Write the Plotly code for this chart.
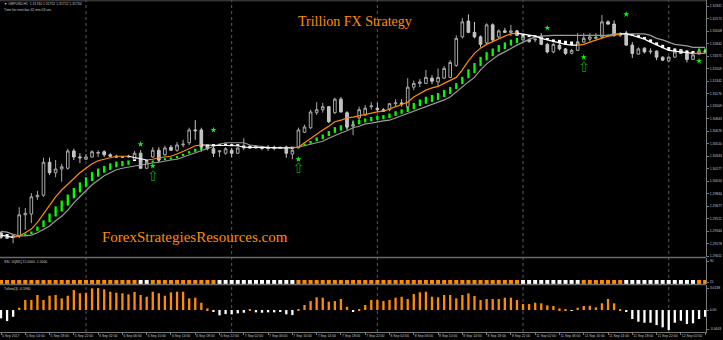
import pandas as pd
import plotly.graph_objects as go

W, H = 723, 340

# ---------------- data ----------------
open_ = [1.2932, 1.2926, 1.2926, 1.2928, 1.2956, 1.2957, 1.2980, 1.2982, 1.3026, 1.3012,
         1.3017, 1.3018, 1.3041, 1.3033, 1.3030, 1.3033, 1.3038, 1.3040, 1.3036, 1.3034,
         1.3033, 1.3033, 1.3030, 1.3038, 1.3018, 1.3033, 1.3042, 1.3036, 1.3046, 1.3042,
         1.3049, 1.3052, 1.3069, 1.3069, 1.3048, 1.3044, 1.3040, 1.3038, 1.3042, 1.3038,
         1.3045, 1.3046, 1.3045, 1.3046, 1.3045, 1.3046, 1.3045, 1.3046, 1.3037, 1.3046,
         1.3066, 1.3072, 1.3092, 1.3096, 1.3100, 1.3092, 1.3110, 1.3092, 1.3074, 1.3085,
         1.3089, 1.3100, 1.3098, 1.3096, 1.3096, 1.3104, 1.3105, 1.3100, 1.3126, 1.3131,
         1.3131, 1.3138, 1.3133, 1.3138, 1.3139, 1.3155, 1.3193, 1.3214, 1.3199, 1.3193,
         1.3185, 1.3209, 1.3193, 1.3201, 1.3199, 1.3201, 1.3189, 1.3189, 1.3189, 1.3194,
         1.3183, 1.3173, 1.3182, 1.3177, 1.3171, 1.3175, 1.3186, 1.3190, 1.3191, 1.3193,
         1.3213, 1.3210, 1.3195, 1.3198, 1.3182, 1.3170, 1.3178, 1.3173, 1.3174, 1.3166,
         1.3161, 1.3166, 1.3175, 1.3171, 1.3163, 1.3170, 1.3174]
high = [1.2934, 1.2928, 1.2930, 1.2966, 1.2965, 1.2985, 1.2988, 1.3032, 1.3032, 1.3029,
        1.3024, 1.3044, 1.3044, 1.3038, 1.3037, 1.3042, 1.3042, 1.3042, 1.3038, 1.3036,
        1.3034, 1.3036, 1.3041, 1.3042, 1.3029, 1.3046, 1.3046, 1.3048, 1.3049, 1.3053,
        1.3056, 1.3072, 1.3082, 1.3072, 1.3049, 1.3049, 1.3042, 1.3046, 1.3045, 1.3046,
        1.3058, 1.3049, 1.3048, 1.3048, 1.3049, 1.3048, 1.3046, 1.3048, 1.3045, 1.3072,
        1.3076, 1.3096, 1.3106, 1.3105, 1.3101, 1.3112, 1.3113, 1.3094, 1.3082, 1.3100,
        1.3102, 1.3106, 1.3105, 1.3098, 1.3105, 1.3110, 1.3110, 1.3138, 1.3135, 1.3137,
        1.3149, 1.3142, 1.3151, 1.3154, 1.3162, 1.3195, 1.3218, 1.3223, 1.3213, 1.3195,
        1.3211, 1.3211, 1.3203, 1.3205, 1.3209, 1.3202, 1.3195, 1.3191, 1.3191, 1.3198,
        1.3185, 1.3185, 1.3185, 1.3178, 1.3177, 1.3198, 1.3198, 1.3198, 1.3198, 1.3222,
        1.3215, 1.3215, 1.3199, 1.3201, 1.3186, 1.3179, 1.3179, 1.3178, 1.3175, 1.3167,
        1.3167, 1.3175, 1.3177, 1.3173, 1.3170, 1.3175, 1.3175]
low = [1.2924, 1.2924, 1.2918, 1.2925, 1.2936, 1.2945, 1.2976, 1.2980, 1.3009, 1.3006,
       1.3000, 1.3016, 1.3029, 1.3025, 1.3029, 1.3032, 1.3033, 1.3033, 1.3033, 1.3032,
       1.3032, 1.3032, 1.3029, 1.3017, 1.3017, 1.3032, 1.3026, 1.3034, 1.3041, 1.3040,
       1.3046, 1.3049, 1.3056, 1.3040, 1.3042, 1.3033, 1.3033, 1.3036, 1.3033, 1.3037,
       1.3042, 1.3044, 1.3044, 1.3042, 1.3041, 1.3042, 1.3044, 1.3032, 1.3030, 1.3044,
       1.3065, 1.3070, 1.3089, 1.3092, 1.3078, 1.3090, 1.3092, 1.3069, 1.3062, 1.3082,
       1.3088, 1.3096, 1.3093, 1.3093, 1.3094, 1.3100, 1.3100, 1.3097, 1.3122, 1.3126,
       1.3130, 1.3130, 1.3126, 1.3137, 1.3138, 1.3153, 1.3191, 1.3198, 1.3191, 1.3179,
       1.3182, 1.3186, 1.3191, 1.3198, 1.3194, 1.3194, 1.3187, 1.3185, 1.3186, 1.3182,
       1.3171, 1.3171, 1.3175, 1.3169, 1.3170, 1.3174, 1.3185, 1.3187, 1.3190, 1.3191,
       1.3209, 1.3193, 1.3193, 1.3181, 1.3165, 1.3169, 1.3171, 1.3170, 1.3162, 1.3161,
       1.3159, 1.3165, 1.3170, 1.3159, 1.3162, 1.3170, 1.3171]
close = [1.2926, 1.2925, 1.2928, 1.2956, 1.2958, 1.2980, 1.2982, 1.3026, 1.3012, 1.3017,
         1.3020, 1.3041, 1.3033, 1.3032, 1.3033, 1.3040, 1.3039, 1.3036, 1.3034, 1.3033,
         1.3033, 1.3034, 1.3038, 1.3018, 1.3026, 1.3042, 1.3029, 1.3045, 1.3042, 1.3049,
         1.3050, 1.3069, 1.3068, 1.3046, 1.3044, 1.3038, 1.3041, 1.3044, 1.3038, 1.3045,
         1.3046, 1.3045, 1.3046, 1.3045, 1.3046, 1.3045, 1.3046, 1.3038, 1.3042, 1.3069,
         1.3073, 1.3093, 1.3096, 1.3100, 1.3080, 1.3110, 1.3093, 1.3073, 1.3076, 1.3096,
         1.3098, 1.3101, 1.3096, 1.3094, 1.3104, 1.3105, 1.3104, 1.3126, 1.3131, 1.3133,
         1.3139, 1.3134, 1.3139, 1.3151, 1.3159, 1.3191, 1.3213, 1.3199, 1.3193, 1.3183,
         1.3209, 1.3189, 1.3201, 1.3199, 1.3201, 1.3195, 1.3193, 1.3187, 1.3190, 1.3183,
         1.3173, 1.3183, 1.3177, 1.3171, 1.3175, 1.3185, 1.3191, 1.3193, 1.3192, 1.3213,
         1.3210, 1.3195, 1.3197, 1.3182, 1.3171, 1.3177, 1.3173, 1.3174, 1.3166, 1.3162,
         1.3166, 1.3173, 1.3171, 1.3163, 1.3169, 1.3174, 1.3173]

fast_line = [1.2929, 1.2928, 1.2926, 1.2928, 1.2932, 1.2937, 1.2946, 1.2957, 1.2969, 1.2980,
             1.2989, 1.2997, 1.3005, 1.3012, 1.3018, 1.3024, 1.3028, 1.3030, 1.3033, 1.3034,
             1.3034, 1.3034, 1.3032, 1.3030, 1.3029, 1.3030, 1.3032, 1.3033, 1.3034, 1.3037,
             1.3040, 1.3044, 1.3048, 1.3049, 1.3049, 1.3049, 1.3049, 1.3049, 1.3048, 1.3048,
             1.3046, 1.3046, 1.3046, 1.3045, 1.3045, 1.3045, 1.3045, 1.3045, 1.3045, 1.3046,
             1.3052, 1.3058, 1.3064, 1.3069, 1.3074, 1.3080, 1.3082, 1.3085, 1.3086, 1.3088,
             1.3089, 1.3092, 1.3093, 1.3094, 1.3097, 1.3100, 1.3102, 1.3106, 1.3113, 1.3118,
             1.3122, 1.3125, 1.3127, 1.3131, 1.3135, 1.3139, 1.3149, 1.3161, 1.3171, 1.3178,
             1.3183, 1.3187, 1.3191, 1.3194, 1.3197, 1.3198, 1.3197, 1.3195, 1.3194, 1.3191,
             1.3189, 1.3186, 1.3185, 1.3183, 1.3182, 1.3182, 1.3183, 1.3186, 1.3189, 1.3191,
             1.3194, 1.3195, 1.3197, 1.3197, 1.3195, 1.3193, 1.3190, 1.3186, 1.3182, 1.3178,
             1.3175, 1.3174, 1.3173, 1.3171, 1.3171, 1.3171, 1.3171]
slow_line = [1.2934, 1.2933, 1.2930, 1.2928, 1.2928, 1.2929, 1.2932, 1.2936, 1.2941, 1.2948,
             1.2954, 1.2962, 1.2972, 1.2980, 1.2988, 1.2996, 1.3002, 1.3008, 1.3012, 1.3016,
             1.3018, 1.3020, 1.3021, 1.3022, 1.3024, 1.3025, 1.3026, 1.3028, 1.3029, 1.3030,
             1.3033, 1.3036, 1.3038, 1.3041, 1.3045, 1.3048, 1.3050, 1.3052, 1.3052, 1.3052,
             1.3052, 1.3049, 1.3048, 1.3046, 1.3045, 1.3045, 1.3045, 1.3046, 1.3046, 1.3046,
             1.3048, 1.3049, 1.3052, 1.3054, 1.3058, 1.3062, 1.3065, 1.3068, 1.3072, 1.3074,
             1.3077, 1.3078, 1.3080, 1.3081, 1.3082, 1.3085, 1.3088, 1.3090, 1.3093, 1.3097,
             1.3100, 1.3102, 1.3105, 1.3109, 1.3113, 1.3120, 1.3126, 1.3133, 1.3139, 1.3149,
             1.3157, 1.3163, 1.3169, 1.3173, 1.3178, 1.3182, 1.3186, 1.3190, 1.3193, 1.3194,
             1.3195, 1.3195, 1.3195, 1.3195, 1.3194, 1.3194, 1.3194, 1.3194, 1.3194, 1.3195,
             1.3195, 1.3197, 1.3197, 1.3197, 1.3198, 1.3198, 1.3197, 1.3195, 1.3191, 1.3189,
             1.3186, 1.3183, 1.3182, 1.3181, 1.3179, 1.3179, 1.3179]

# trend state of the main-chart line / histogram (runs of up / down)
trend_runs = [("dn", 3), ("up", 19), ("dn", 3), ("up", 9), ("dn", 15), ("up", 37),
              ("dn", 10), ("up", 7), ("dn", 12), ("up", 2)]
# SSL indicator state (orange / white squares)
ssl_runs = [("up", 23), ("dn", 2), ("up", 11), ("dn", 13), ("up", 37), ("dn", 10),
            ("up", 7), ("dn", 12), ("up", 2)]
ssl_level = 15

trillion = [-1.14, -1.51, -0.92, 0.32, 1.37, 1.37, 2.06, 1.37, 1.96, 2.06,
            1.60, 1.96, 2.74, 2.29, 2.37, 2.97, 3.01, 2.84, 2.51, 2.37,
            2.29, 2.15, 2.47, 2.06, 1.82, 2.51, 2.29, 1.96, 2.42, 2.51,
            2.51, 1.60, 1.69, 1.00, 0.23, -0.27, -0.73, -0.55, -0.59, -0.45,
            -0.37, 0.05, -0.32, -0.37, -0.32, -0.32, -0.27, -0.59, -0.69, 0.10,
            0.69, 1.23, 1.74, 1.69, 1.14, 1.23, 1.51, 0.45, -0.23, 0.14,
            0.69, 1.37, 1.37, 1.23, 1.37, 1.69, 1.82, 1.51, 2.19, 2.42,
            2.51, 1.82, 1.74, 2.06, 2.06, 1.60, 2.06, 2.29, 1.92, 1.37,
            1.51, 1.51, 1.51, 1.69, 1.69, 1.37, 0.82, 0.82, 1.00, 0.92,
            0.64, 0.55, 0.23, 0.05, -0.05, 0.32, 0.55, 0.59, 0.37, 0.92,
            1.51, 0.92, 0.14, -0.23, -1.23, -1.60, -1.74, -1.74, -2.06, -2.37,
            -2.74, -1.74, -1.47, -1.92, -1.82, -1.23, -0.92]

sig_above_bars = [23, 35, 90, 103]
sig_above_price = [1.3050, 1.3069, 1.3205, 1.3223]
sig_below_bars = [25, 49, 96, 115]
sig_below_price = [1.3021, 1.3030, 1.3166, 1.3161]
arrow_bars = [25, 49, 96]
arrow_price = [1.3006, 1.3016, 1.3151]

price_ticks = [1.29011, 1.29178, 1.29344, 1.29511, 1.29677, 1.29844, 1.30010,
               1.30177, 1.30343, 1.30510, 1.30676, 1.30843, 1.31009, 1.31176,
               1.31342, 1.31509, 1.31675, 1.31842, 1.32008, 1.32175, 1.32341]
ssl_ticks = [90, 15]
trill_tickvals = [3.0138, 0.0, -2.62]
trill_ticktext = ["3.0138", "0.00", "-3.0643"]

start_time = "2017-09-05 10:00"
end_time = "2017-09-12 06:00"

# ---------------- helpers ----------------
def expand(runs):
    out = []
    for s, k in runs:
        out += [s] * k
    return out

trend = expand(trend_runs)
ssl = expand(ssl_runs)
n = len(close)
bars = list(range(n))

times = pd.date_range(start_time, end_time, freq="h")
times = [t for t in times if t.dayofweek < 5]

ORANGE = "#FF8C00"
GREEN = "#00FF00"
WHITE = "#FFFFFF"
GREY = "#9a9a9a"
AXIS = "#7a7a7a"
LABEL = "#c4c4c4"

fig = go.Figure()

# trend histogram in main chart (between fast and slow lines)
for state, col, f1, f2, wdt in [("up", GREEN, 0.4, 0.82, 0.38), ("dn", WHITE, 0.0, 0.4, 0.5)]:
    xs, bs, hs = [], [], []
    for i in bars:
        if trend[i] != state:
            continue
        g = slow_line[i] - fast_line[i]
        a = fast_line[i] + f1 * g
        b = fast_line[i] + f2 * g
        lo, hi = min(a, b), max(a, b)
        if hi - lo < 0.00027:
            mid = (hi + lo) / 2
            lo, hi = mid - 0.000135, mid + 0.000135
        xs.append(i); bs.append(lo); hs.append(hi - lo)
    fig.add_trace(go.Bar(x=xs, y=hs, base=bs, width=wdt, marker=dict(color=col, line=dict(width=0)),
                         xaxis="x", yaxis="y", hoverinfo="skip"))

# candles
fig.add_trace(go.Candlestick(
    x=bars, open=open_, high=high, low=low, close=close,
    increasing=dict(fillcolor="#000000", line=dict(color="#a8a8a8", width=1)),
    decreasing=dict(fillcolor="#c0c0c0", line=dict(color="#c8c8c8", width=1)),
    whiskerwidth=0, xaxis="x", yaxis="y", hoverinfo="skip"))

# slow (grey) line
fig.add_trace(go.Scatter(x=bars, y=slow_line, mode="lines", line=dict(color=GREY, width=1.2),
                         xaxis="x", yaxis="y", hoverinfo="skip"))

# fast line, coloured by trend state
start = 0
for s, cnt in trend_runs:
    a = max(start - 1, 0)
    b = start + cnt
    fig.add_trace(go.Scatter(x=bars[a:b], y=fast_line[a:b], mode="lines",
                             line=dict(color=ORANGE if s == "up" else WHITE, width=1.2),
                             xaxis="x", yaxis="y", hoverinfo="skip"))
    start = b

# signals
fig.add_trace(go.Scatter(x=sig_above_bars + sig_below_bars, y=sig_above_price + sig_below_price,
                         mode="markers", marker=dict(symbol="star", size=4.5, color=GREEN, line=dict(width=0)),
                         xaxis="x", yaxis="y", hoverinfo="skip"))
fig.add_trace(go.Scatter(x=arrow_bars, y=arrow_price, mode="text", text=["⇧"] * len(arrow_bars),
                         textfont=dict(family="DejaVu Sans", size=14, color="#00a000"),
                         xaxis="x", yaxis="y", hoverinfo="skip"))

# SSL squares
fig.add_trace(go.Scatter(x=bars, y=[ssl_level] * n, mode="markers",
                         marker=dict(symbol="square", size=4,
                                     color=[ORANGE if s == "up" else WHITE for s in ssl], line=dict(width=0)),
                         xaxis="x2", yaxis="y2", hoverinfo="skip"))

# Trillion histogram
fig.add_trace(go.Bar(x=bars, y=trillion, width=0.38,
                     marker=dict(color=[ORANGE if v >= 0 else WHITE for v in trillion], line=dict(width=0)),
                     xaxis="x3", yaxis="y3", hoverinfo="skip"))

# ---------------- layout ----------------
xr = [-0.165, 116.14]
xd = [0, 706 / W]
tick_idx = list(range(0, n, 4))
tick_txt = [("%d %s" % (times[i].day, times[i].strftime("%b %Y"))) if i == 0
            else ("%d %s" % (times[i].day, times[i].strftime("%b %H:%M"))) for i in tick_idx]

def py(p):
    return 1 - p / H

small = dict(family="Liberation Sans", size=3.4, color=LABEL)

common_x = dict(range=xr, domain=xd, showgrid=False, zeroline=False, fixedrange=True)
fig.update_layout(
    width=W, height=H, margin=dict(l=0, r=0, t=0, b=0),
    paper_bgcolor="black", plot_bgcolor="black", showlegend=False,
    barmode="overlay", boxgap=0.38,
    xaxis=dict(**common_x, anchor="y", showticklabels=False, rangeslider=dict(visible=False)),
    xaxis2=dict(**common_x, anchor="y2", showticklabels=False),
    xaxis3=dict(**common_x, anchor="y3", tickvals=tick_idx, ticktext=tick_txt, tickangle=0,
                ticklabelposition="outside right", tickfont=small, ticks="outside",
                ticklen=2, tickcolor=AXIS, showline=True, linecolor=AXIS, linewidth=1),
    yaxis=dict(domain=[py(257), 1], anchor="x", side="right", range=[1.28998, 1.32421],
               tickvals=price_ticks, ticktext=["%.5f" % v for v in price_ticks],
               tickfont=small, ticks="outside", ticklen=2, tickcolor=AXIS,
               showgrid=False, zeroline=False, showline=True, linecolor=AXIS, fixedrange=True),
    yaxis2=dict(domain=[py(284), py(258)], anchor="x2", side="right", range=[7.86, 100.7],
                tickvals=ssl_ticks, ticktext=[str(v) for v in ssl_ticks], tickfont=small,
                ticks="outside", ticklen=2, tickcolor=AXIS,
                showgrid=False, zeroline=False, showline=True, linecolor=AXIS, fixedrange=True),
    yaxis3=dict(domain=[py(332), py(285)], anchor="x3", side="right", range=[-3.01, 3.43],
                tickvals=trill_tickvals, ticktext=trill_ticktext, tickfont=small,
                ticks="outside", ticklen=2, tickcolor=AXIS,
                showgrid=False, zeroline=False, showline=True, linecolor=AXIS, fixedrange=True),
)

shapes = []
# panel separators
for yy in (257.5, 284.5):
    shapes.append(dict(type="line", xref="paper", yref="paper", x0=0, x1=706 / W, y0=py(yy), y1=py(yy),
                       line=dict(color="#6a6a6a", width=1.6)))
shapes.append(dict(type="line", xref="paper", yref="paper", x0=0, x1=706 / W, y0=py(0.8), y1=py(0.8),
                   line=dict(color="#4a4a4a", width=1)))
# day separators
for i in bars:
    if times[i].hour == 0:
        shapes.append(dict(type="line", xref="x", yref="paper", x0=i, x1=i, y0=py(332), y1=1,
                           line=dict(color="#5a5a5a", width=1, dash="dot"), layer="below"))
fig.update_layout(shapes=shapes)

ann = [
    dict(text="Trillion FX Strategy", x=355 / W, y=py(22),
         font=dict(family="Liberation Serif", size=14, color=ORANGE)),
    dict(text="ForexStrategiesResources.com", x=195 / W, y=py(237),
         font=dict(family="Liberation Serif", size=15, color=ORANGE)),
]
for a in ann:
    a.update(xref="paper", yref="paper", xanchor="center", yanchor="middle", showarrow=False)
left = [
    ("▼ GBPUSD,H1  1.31740 1.31752 1.31712 1.31734", 4),
    ("Time for next bar 42 min 03 sec", 9.5),
    ("SSL 10[M1] 15.0000 -1.0000", 262),
    ("Trillion(3) -0.5980", 289),
]
for t, yy in left:
    ann.append(dict(text=t, x=2 / W, y=py(yy), xref="paper", yref="paper", xanchor="left",
                    yanchor="middle", showarrow=False, font=small))
fig.update_layout(annotations=ann)

fig.write_html("out.html")
